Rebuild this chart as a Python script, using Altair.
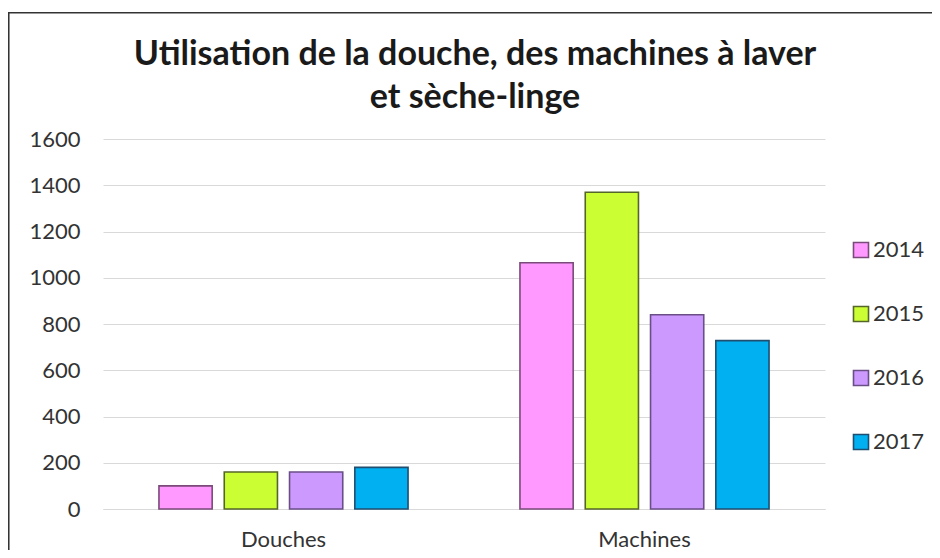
import altair as alt
import pandas as pd

categories = ["Douches", "Machines"]
years = ["2014", "2015", "2016", "2017"]
douches = [100, 160, 160, 180]
machines = [1065, 1370, 840, 728]
fill_colors = ["#FF99FF", "#CCFF33", "#CC99FF", "#00B0F0"]
stroke_colors = ["#7A4A7A", "#55662A", "#6A4F86", "#1F4E70"]
y_ticks = [0, 200, 400, 600, 800, 1000, 1200, 1400, 1600]
title_lines = ["Utilisation de la douche, des machines à laver", "et sèche-linge"]

rows = []
for cat, vals in zip(categories, [douches, machines]):
    for yr, v in zip(years, vals):
        rows.append({"cat": cat, "year": yr, "value": v})
df = pd.DataFrame(rows)

FONT = "Lato"
TXT = "#333333"

legend = alt.Legend(title=None, orient="none", legendX=747, legendY=100,
                    symbolType="square", symbolSize=225,
                    symbolStrokeWidth=1.6, labelFontSize=22,
                    labelFont=FONT, labelColor=TXT,
                    labelOffset=1, rowPadding=42, padding=0)

bars = alt.Chart(df).mark_bar(strokeWidth=1.6).encode(
    x=alt.X("cat:N", sort=categories,
            scale=alt.Scale(paddingInner=0.31, paddingOuter=0.155),
            axis=alt.Axis(title=None, labelAngle=0, ticks=False, labelPadding=20,
                          domainColor="#D9D9D9", labelFontSize=22, labelColor=TXT,
                          labelFont=FONT, grid=False)),
    xOffset=alt.XOffset("year:N", sort=years,
                        scale=alt.Scale(paddingInner=0.185, paddingOuter=0)),
    y=alt.Y("value:Q",
            scale=alt.Scale(domain=[0, 1600], nice=False),
            axis=alt.Axis(title=None, values=y_ticks, format="d", ticks=False, domain=False,
                          labelPadding=23, labelFontSize=22, labelColor=TXT,
                          labelFont=FONT, gridColor="#D9D9D9", gridWidth=1)),
    fill=alt.Fill("year:N", sort=years,
                  scale=alt.Scale(domain=years, range=fill_colors), legend=legend),
    stroke=alt.Stroke("year:N", sort=years,
                      scale=alt.Scale(domain=years, range=stroke_colors), legend=legend),
)

frame = alt.Chart(alt.Data(values=[{}])).mark_rect(
    fill="transparent", stroke="#333333", strokeWidth=1.6
).encode(
    x=alt.value(-94.25), x2=alt.value(900),
    y=alt.value(-126.25), y2=alt.value(480),
)

title = alt.Chart(alt.Data(values=[{}])).mark_text(
    text=title_lines, font=FONT, fontSize=34, fontWeight="bold", color="#1A1A1A",
    lineHeight=43, align="center", baseline="alphabetic"
).encode(
    x=alt.value(372), y=alt.value(-74),
)

chart = alt.layer(frame, bars, title).properties(
    width=722, height=370,
    padding={"left": 95, "top": 131, "right": 107, "bottom": 41},
    autosize=alt.AutoSizeParams(type="none"),
    background="white",
).configure_view(stroke=None)

chart.save("out.html", embed_options={"renderer": "svg", "actions": False})
